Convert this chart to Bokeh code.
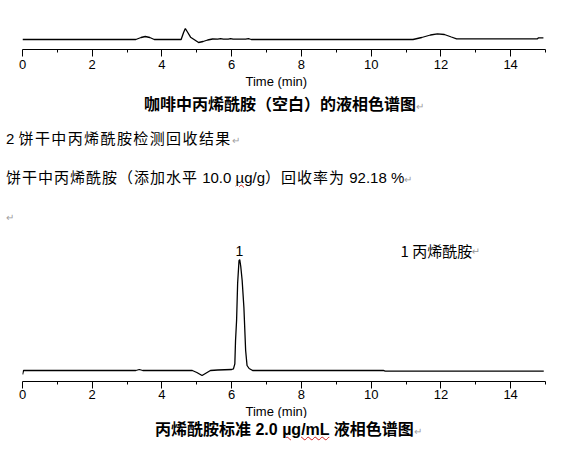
from bokeh.plotting import figure
from bokeh.models import Range1d, FixedTicker, Title, Div, Label
from bokeh.layouts import column
from bokeh.embed import file_html
from bokeh.resources import INLINE
from bokeh.core.properties import value

# ---------------- data ----------------
major_ticks = [0, 2, 4, 6, 8, 10, 12, 14]
minor_ticks = [1, 3, 5, 7, 9, 11, 13, 15]
tick_labels = ["0", "2", "4", "6", "8", "10", "12", "14"]

# blank coffee sample chromatogram (time min, signal a.u.)
blank_time = [0, 3.25, 3.40, 3.52, 3.65, 3.78, 4.55, 4.62, 4.67, 4.74, 4.82, 4.92,
              5.05, 5.18, 5.31, 5.45, 5.60, 5.68, 5.76, 5.90, 5.97, 6.04, 6.40,
              6.48, 6.56, 11.20, 11.45, 11.70, 11.90, 12.10, 12.30, 12.45, 14.77,
              14.80, 14.94]
blank_signal = [0, 0, 2.0, 3.0, 2.0, 0, 0, 7, 11, 7, 2.3, 0,
                -3, -2, -0.5, 0.5, 0.3, 0.8, 0.3, 0.3, 0.8, 0.3, 0.3,
                0.8, 0, 0, 2.0, 4.5, 5.7, 5.0, 2.5, 0.7, 0.7,
                1.7, 1.7]

# acrylamide standard 2.0 ug/mL chromatogram
std_time = [0, 0.03, 3.25, 3.35, 3.45, 4.87, 5.00, 5.15, 5.27, 5.39, 5.60, 6.00,
            6.05, 6.09, 6.11, 6.14, 6.17, 6.21, 6.23, 6.26, 6.30, 6.35, 6.40,
            6.44, 6.50, 6.60, 10.36, 10.40, 14.95]
std_signal = [-4, 0, 0, 1, 0, 0, -2, -5, -2.5, 0, 0.5, 1.0,
              1.7, 6.7, 30, 50, 87, 110, 111, 104, 90, 63, 20,
              5, 2, 0, 0, -0.7, -0.7]

peak_time = [6.22]
peak_height = [111]
peak_labels = ["1"]
compound_label = "1 丙烯酰胺"

spike_level = "10.0"
recovery = "92.18"

W = 570


def chromatogram(t, s, y_range, height, top, bottom, label_standoff, title_standoff):
    p = figure(width=W, height=height, x_range=Range1d(0, 15), y_range=Range1d(*y_range),
               output_backend="svg", toolbar_location=None, y_axis_location=None,
               min_border_left=22, min_border_right=25, min_border_top=top,
               min_border_bottom=bottom)
    p.outline_line_color = None
    p.grid.visible = False
    p.background_fill_color = "white"
    p.border_fill_color = "white"
    ax = p.xaxis[0]
    ax.ticker = FixedTicker(ticks=major_ticks, minor_ticks=minor_ticks)
    ax.major_label_overrides = {tk: lb for tk, lb in zip(major_ticks, tick_labels)}
    ax.axis_line_color = "black"
    ax.axis_line_width = 1
    ax.major_tick_line_color = "black"
    ax.minor_tick_line_color = "black"
    ax.major_tick_in = 0
    ax.major_tick_out = 7
    ax.minor_tick_in = 0
    ax.minor_tick_out = 3
    ax.major_label_standoff = label_standoff
    ax.major_label_text_font = "Liberation Sans"
    ax.major_label_text_font_size = "13px"
    ax.major_label_text_color = "black"
    p.line(t, s, line_color="black", line_width=1.3)
    p.add_layout(Title(text="Time (min)", align="left", offset=223, standoff=title_standoff,
                       text_font="Liberation Sans", text_font_size="13px",
                       text_font_style="normal", text_color="black"), "below")
    return p


p1 = chromatogram(blank_time, blank_signal, (-10, 19), 92, 20, 43, 3, 0)
p2 = chromatogram(std_time, std_signal, (-11, 130), 186, 8, 37, 1, 0)

p2.text(peak_time, peak_height, text=peak_labels, text_align="center",
        text_baseline="bottom", y_offset=-4, text_font=value("Liberation Sans"),
        text_font_size="14px", text_color="black")
p2.add_layout(Label(x=10.84, y=120.5, text=compound_label, text_baseline="middle",
                    text_font="Noto Sans CJK SC", text_font_size="15px", text_color="black"))
p2.add_layout(Label(x=12.88, y=119, text="↵", text_baseline="middle",
                    text_font="DejaVu Sans", text_font_size="10px", text_color="#999999"))

FONT = "font-family:'Liberation Sans','Noto Sans CJK SC',sans-serif;"
RET = '<span style="color:#a0a0a0;font-weight:normal;font-size:10px;letter-spacing:0">↵</span>'
WAVY = "text-decoration:underline wavy #d02020;text-decoration-thickness:1px;"
LAT = "letter-spacing:0;"

mid_html = f"""
<div style="position:relative;width:{W}px;height:140px;{FONT}color:#000;">
 <div style="position:absolute;left:144px;top:4px;font-size:16px;font-weight:bold;line-height:18px;white-space:nowrap;">咖啡中丙烯酰胺（空白）的液相色谱图{RET}</div>
 <div style="position:absolute;left:6px;top:38px;font-size:15px;letter-spacing:1.4px;line-height:18px;white-space:nowrap;"><span style="{LAT}">2 </span>饼干中丙烯酰胺检测回收结果{RET}</div>
 <div style="position:absolute;left:6px;top:77px;font-size:15px;letter-spacing:1px;line-height:18px;white-space:nowrap;">饼干中丙烯酰胺（添加水平<span style="{LAT}"> {spike_level} <span style="{WAVY}">µg</span>/g</span>）回收率为<span style="{LAT}"> {recovery} %</span>{RET}</div>
 <div style="position:absolute;left:6px;top:118px;line-height:14px;">{RET}</div>
</div>
"""
cap_html = f"""
<div style="position:relative;width:{W}px;height:30px;{FONT}color:#000;">
 <div style="position:absolute;left:155px;top:3px;font-size:16px;font-weight:bold;line-height:18px;white-space:nowrap;">丙烯酰胺标准 2.0 <span style="{WAVY}">µg/mL</span> 液相色谱图{RET}</div>
</div>
"""

mid = Div(text=mid_html, width=W, height=140, margin=0)
cap = Div(text=cap_html, width=W, height=30, margin=0)

layout = column(p1, mid, p2, cap, spacing=0, margin=0)
open("out.html", "w").write(file_html(layout, INLINE))
